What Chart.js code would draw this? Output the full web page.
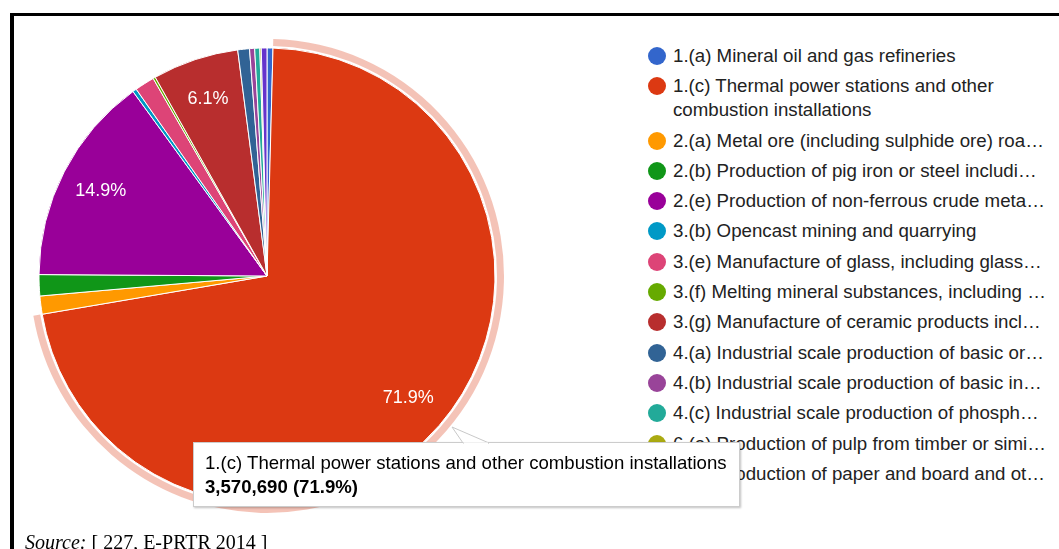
<!DOCTYPE html>
<html>
<head>
<meta charset="utf-8">
<script src="https://cdn.jsdelivr.net/npm/chart.js@4/dist/chart.umd.min.js"></script>
<style>
    html, body { margin: 0; padding: 0; background: #fff; width: 1059px; height: 549px; overflow: hidden; }
    .frame { position: absolute; left: 10px; top: 13px; width: 1100px; height: 600px; border-left: 4px solid #000; border-top: 3px solid #000; }
    #pieWrap { position: absolute; left: 27px; top: 36px; width: 480px; height: 480px; }
    #legend { position: absolute; left: 648px; top: 44px; margin: 0; padding: 0; list-style: none; font-family: "Liberation Sans", Arial, sans-serif; font-size: 18.7px; color: #222; }
    #legend li { position: relative; padding-left: 25px; width: 373px; line-height: 24px; margin-bottom: 6.3px; white-space: nowrap; overflow: hidden; text-overflow: ellipsis; }
    #legend li.wrap { white-space: normal; }
    #legend .dot { position: absolute; left: 0; top: 3px; width: 18px; height: 18px; border-radius: 50%; }
    #tip { position: absolute; left: 193px; top: 442px; width: 534px; height: 55px; padding: 7.6px 0 0 11px; background: #fff; border: 1px solid #ccc; box-shadow: 1px 1px 2px rgba(0,0,0,0.25); font-family: "Liberation Sans", Arial, sans-serif; font-size: 18.6px; line-height: 24px; color: #000; white-space: nowrap; }
    #tip b { font-weight: bold; }
    #callout { position: absolute; left: 0; top: 0; width: 1059px; height: 549px; pointer-events: none; }
    .source { position: absolute; left: 25px; top: 532px; font-family: "Liberation Serif", "Times New Roman", serif; font-size: 20px; line-height: 20px; color: #000; }
</style>
</head>
<body>
<div class="frame"></div>
<div id="pieWrap"><canvas id="pie" width="480" height="480"></canvas></div>
<ul id="legend"></ul>
<div id="tip"></div>
<svg id="callout"><polygon points="452,427 463,443 489,443" fill="#fff" stroke="#c8c8c8" stroke-width="1"/><line x1="464" y1="443.5" x2="488" y2="443.5" stroke="#fff" stroke-width="2"/></svg>
<div class="source"><i>Source:</i> [ 227, E-PRTR 2014 ]</div>

<script>
// E-PRTR activities (full names, legend truncates them)
const categories = [
    '1.(a) Mineral oil and gas refineries',
    '1.(c) Thermal power stations and other combustion installations',
    '2.(a) Metal ore (including sulphide ore) roasting or sintering installations',
    '2.(b) Production of pig iron or steel including continuous casting',
    '2.(e) Production of non-ferrous crude metals from ore, concentrates or secondary raw materials',
    '3.(b) Opencast mining and quarrying',
    '3.(e) Manufacture of glass, including glass fibre',
    '3.(f) Melting mineral substances, including the production of mineral fibres',
    '3.(g) Manufacture of ceramic products including roofing tiles, bricks, refractory bricks, tiles, stoneware or porcelain',
    '4.(a) Industrial scale production of basic organic chemicals',
    '4.(b) Industrial scale production of basic inorganic chemicals',
    '4.(c) Industrial scale production of phosphorous-, nitrogen- or potassium-based fertilisers',
    '6.(a) Production of pulp from timber or similar fibrous materials',
    '6.(b) Production of paper and board and other primary wood products'
];
const values = [20900, 3570690, 63600, 74500, 740000, 13900, 69500, 8400, 302900, 41200, 17900, 17900, 5000, 19900];
const colors = ['#3366cc', '#dc3912', '#ff9900', '#109618', '#990099', '#0099c6', '#dd4477',
                '#66aa00', '#b82e2e', '#316395', '#994499', '#22aa99', '#aaaa11', '#6633cc'];
const selectedIndex = 1;
const wrappedLegend = [1];

const total = values.reduce((a, b) => a + b, 0);
const pct = v => (v / total * 100).toFixed(1) + '%';

// halo ring around the selected slice
const haloPlugin = {
    id: 'halo',
    beforeDatasetsDraw(chart) {
        const arc = chart.getDatasetMeta(0).data[selectedIndex];
        const ctx = chart.ctx;
        ctx.save();
        ctx.beginPath();
        ctx.arc(arc.x, arc.y, arc.outerRadius + 9, arc.startAngle, arc.endAngle);
        ctx.arc(arc.x, arc.y, arc.outerRadius + 2, arc.endAngle, arc.startAngle, true);
        ctx.closePath();
        ctx.fillStyle = 'rgba(220,57,18,0.3)';
        ctx.fill();
        ctx.restore();
    }
};

// percentage labels inside the bigger slices
const sliceLabels = {
    id: 'sliceLabels',
    afterDatasetsDraw(chart) {
        const ctx = chart.ctx;
        ctx.save();
        ctx.fillStyle = '#fff';
        ctx.font = '18px "Liberation Sans", Arial, sans-serif';
        ctx.textAlign = 'center';
        ctx.textBaseline = 'middle';
        chart.getDatasetMeta(0).data.forEach((arc, i) => {
            if (values[i] / total < 0.05) return;
            const mid = (arc.startAngle + arc.endAngle) / 2;
            const r = arc.outerRadius * 0.82;
            ctx.fillText(pct(values[i]), arc.x + Math.cos(mid) * r, arc.y + Math.sin(mid) * r);
        });
        ctx.restore();
    }
};

new Chart(document.getElementById('pie').getContext('2d'), {
    type: 'pie',
    data: {
        labels: categories,
        datasets: [{
            data: values,
            backgroundColor: colors,
            borderColor: '#fff',
            borderWidth: 1,
            hoverOffset: 0
        }]
    },
    options: {
        responsive: false,
        animation: false,
        events: [],
        radius: 228,
        plugins: {
            legend: { display: false },
            tooltip: { enabled: false }
        }
    },
    plugins: [haloPlugin, sliceLabels]
});

// legend
const legend = document.getElementById('legend');
categories.forEach((name, i) => {
    const li = document.createElement('li');
    if (wrappedLegend.includes(i)) li.className = 'wrap';
    li.innerHTML = `<span class="dot" style="background:${colors[i]}"></span>${name}`;
    legend.appendChild(li);
});

// tooltip for the selected slice
document.getElementById('tip').innerHTML =
    `${categories[selectedIndex]}<br><b>${values[selectedIndex].toLocaleString('en-US')} (${pct(values[selectedIndex])})</b>`;
</script>
</body>
</html>
